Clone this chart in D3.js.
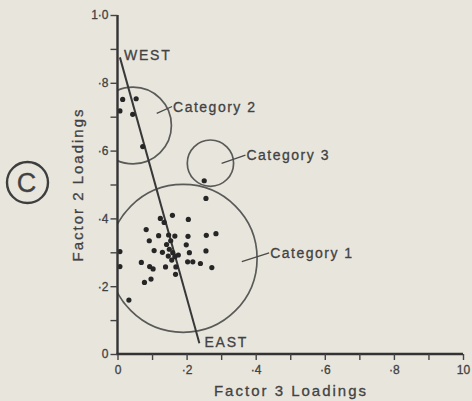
<!DOCTYPE html>
<html>
<head>
<meta charset="utf-8">
<script src="https://cdn.jsdelivr.net/npm/d3@7"></script>
<style>
  body { margin: 0; background: #e8e5dd; }
  svg { display: block; }
  text { font-family: "Liberation Sans", Arial, sans-serif; fill: #424242; stroke: #424242; stroke-width: 0.3; }
</style>
</head>
<body>
<svg id="chart"></svg>
<script>
// Chart size
const width = 472;
const height = 401;

// Factor loadings of each place (x = factor 3, y = factor 2)
const factor3 = [0.015, 0.054, 0.007, 0.044, 0.073, 0.251, 0.256, 0.124, 0.159, 0.205,
  0.135, 0.083, 0.119, 0.148, 0.166, 0.204, 0.257, 0.285, 0.092, 0.154,
  0.199, 0.007, 0.106, 0.130, 0.208, 0.256, 0.007, 0.069, 0.093, 0.103,
  0.139, 0.169, 0.203, 0.218, 0.240, 0.273, 0.168, 0.097, 0.078, 0.033,
  0.150, 0.160, 0.147, 0.166, 0.157, 0.176, 0.142];
const factor2 = [0.751, 0.753, 0.717, 0.707, 0.612, 0.511, 0.459, 0.400, 0.409, 0.397,
  0.388, 0.367, 0.349, 0.351, 0.348, 0.347, 0.350, 0.355, 0.334, 0.334,
  0.322, 0.302, 0.305, 0.300, 0.299, 0.304, 0.258, 0.270, 0.258, 0.251,
  0.257, 0.257, 0.272, 0.272, 0.267, 0.255, 0.235, 0.221, 0.211, 0.159,
  0.309, 0.299, 0.289, 0.287, 0.277, 0.292, 0.323];

// Category circles (centre and radius in loading units)
const categoryNames = ["Category 1", "Category 2", "Category 3"];
const categoryX = [0.190, 0.045, 0.269];
const categoryY = [0.282, 0.674, 0.563];
const categoryR = [0.214, 0.111, 0.067];

// West - east direction line
const directionNames = ["WEST", "EAST"];
const directionX = [0.007, 0.237];
const directionY = [0.875, 0.032];

// Ticks
const tickValues = d3.range(0, 11).map(i => i / 10);
const xTickLabels = ["0", "·2", "·4", "·6", "·8", "10"];
const yTickLabels = ["0", "·2", "·4", "·6", "·8", "1·0"];

// Label placement relative to the circle centre (pixels): leader start, leader end, text
const labelLayout = [
  { start: [58.7, 3.2], end: [86, -5.5], text: [87, -5] },
  { start: [23.7, -12.2], end: [39, -19], text: [40, -18.5] },
  { start: [11.2, 0.3], end: [35, -8], text: [36, -8] }
];

const x = d3.scaleLinear().domain([0, 1]).range([117.5, 463]);
const y = d3.scaleLinear().domain([0, 1]).range([354, 15]);

const svg = d3.select("#chart")
    .attr("width", width)
    .attr("height", height);

svg.append("rect").attr("width", width).attr("height", height).attr("fill", "#e8e5dd");

// Clip circles at the axes
svg.append("clipPath").attr("id", "plot-clip")
  .append("rect")
    .attr("x", x(0)).attr("y", y(1))
    .attr("width", x(1) - x(0)).attr("height", y(0) - y(1));

const plot = svg.append("g").attr("clip-path", "url(#plot-clip)");

const categories = categoryNames.map((name, i) => ({
    name, cx: categoryX[i], cy: categoryY[i], r: categoryR[i], layout: labelLayout[i]
}));

plot.selectAll("circle.category").data(categories).join("circle")
    .attr("class", "category")
    .attr("cx", d => x(d.cx))
    .attr("cy", d => y(d.cy))
    .attr("r", d => x(d.r) - x(0))
    .attr("fill", "none")
    .attr("stroke", "#5a5a58")
    .attr("stroke-width", 1.7);

// Leader lines and category labels
svg.selectAll("line.leader").data(categories).join("line")
    .attr("class", "leader")
    .attr("x1", d => x(d.cx) + d.layout.start[0])
    .attr("y1", d => y(d.cy) + d.layout.start[1])
    .attr("x2", d => x(d.cx) + d.layout.end[0])
    .attr("y2", d => y(d.cy) + d.layout.end[1])
    .attr("stroke", "#4a4a4a")
    .attr("stroke-width", 1.3);

svg.selectAll("text.category").data(categories).join("text")
    .attr("class", "category")
    .attr("x", d => x(d.cx) + d.layout.text[0])
    .attr("y", d => y(d.cy) + d.layout.text[1])
    .attr("dy", "0.35em")
    .attr("font-size", 14)
    .attr("letter-spacing", 1.5)
    .text(d => d.name);

// Direction line
svg.append("line")
    .attr("x1", x(directionX[0])).attr("y1", y(directionY[0]))
    .attr("x2", x(directionX[1])).attr("y2", y(directionY[1]))
    .attr("stroke", "#383838")
    .attr("stroke-width", 2);

svg.selectAll("text.direction").data(directionNames).join("text")
    .attr("class", "direction")
    .attr("x", (d, i) => x(directionX[i]) + (i === 0 ? 4 : 5))
    .attr("y", (d, i) => y(directionY[i]) + (i === 0 ? -2 : -1))
    .attr("dy", "0.35em")
    .attr("font-size", 14)
    .attr("letter-spacing", 1.8)
    .text(d => d);

// Points
const points = factor3.map((v, i) => ({ f3: v, f2: factor2[i] }));
svg.selectAll("circle.point").data(points).join("circle")
    .attr("class", "point")
    .attr("cx", d => x(d.f3))
    .attr("cy", d => y(d.f2))
    .attr("r", 2.6)
    .attr("fill", "#262626");

// Axes
const xAxis = svg.append("g")
    .attr("transform", `translate(0,${y(0)})`)
    .call(d3.axisBottom(x)
        .tickValues(tickValues)
        .tickSize(6)
        .tickPadding(5)
        .tickFormat((d, i) => i % 2 === 0 ? xTickLabels[i / 2] : ""));

const yAxis = svg.append("g")
    .attr("transform", `translate(${x(0)},0)`)
    .call(d3.axisLeft(y)
        .tickValues(tickValues)
        .tickSize(7)
        .tickPadding(2)
        .tickFormat((d, i) => i % 2 === 0 ? yTickLabels[i / 2] : ""));

[xAxis, yAxis].forEach(g => {
    g.select(".domain").attr("stroke", "#333").attr("stroke-width", 2.4);
    g.selectAll(".tick line").attr("stroke", "#444").attr("stroke-width", 1.4);
    g.selectAll(".tick text")
        .attr("font-family", "'Liberation Sans', Arial, sans-serif")
        .attr("font-size", 12)
        .attr("fill", "#454545");
});
xAxis.select(".domain").attr("d", `M${x(0) - 1},0H${x(1)}`);
yAxis.select(".domain").attr("d", `M0,${y(0) + 1}V${y(1)}`);

// Axis titles
svg.append("text")
    .attr("x", 291).attr("y", 391)
    .attr("dy", "0.35em")
    .attr("text-anchor", "middle")
    .attr("font-size", 15)
    .attr("letter-spacing", 2)
    .text("Factor 3 Loadings");

svg.append("text")
    .attr("transform", "translate(78,184.5) rotate(-90)")
    .attr("dy", "0.35em")
    .attr("text-anchor", "middle")
    .attr("font-size", 15)
    .attr("letter-spacing", 2)
    .text("Factor 2 Loadings");

// Panel marker
svg.append("circle")
    .attr("cx", 27.5).attr("cy", 182.5).attr("r", 20.5)
    .attr("fill", "none")
    .attr("stroke", "#3e3e3e")
    .attr("stroke-width", 2.4);
svg.append("text")
    .attr("x", 26.5).attr("y", 182.5)
    .attr("dy", "0.36em")
    .attr("text-anchor", "middle")
    .attr("font-size", 27)
    .attr("fill", "#3e3e3e")
    .text("C");
</script>
</body>
</html>
